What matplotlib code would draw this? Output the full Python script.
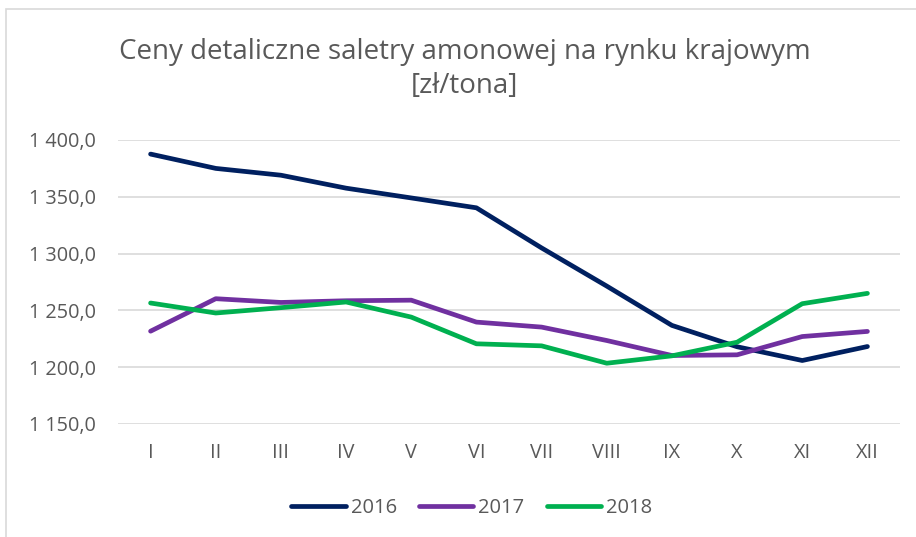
import matplotlib
matplotlib.use("Agg")
import matplotlib.pyplot as plt
from matplotlib.patches import Rectangle

# monthly retail prices of ammonium nitrate [zł/tona]
months = ["I", "II", "III", "IV", "V", "VI", "VII", "VIII", "IX", "X", "XI", "XII"]
price_2016 = [1387.6, 1375.0, 1369.0, 1357.6, 1349.0, 1340.3, 1305.0, 1271.4,
              1236.8, 1218.0, 1205.9, 1218.2]
price_2017 = [1231.7, 1260.3, 1257.0, 1258.5, 1259.0, 1239.7, 1235.3, 1223.5,
              1210.3, 1210.9, 1227.0, 1231.5]
price_2018 = [1256.5, 1247.7, 1252.4, 1257.4, 1244.1, 1220.6, 1218.8, 1203.5,
              1210.0, 1222.0, 1255.9, 1265.0]
y_ticks = [1150, 1200, 1250, 1300, 1350, 1400]

series = [("2016", price_2016, "#002060"),
          ("2017", price_2017, "#7030A0"),
          ("2018", price_2018, "#00B050")]

text_color = "#595959"
grid_color = "#D9D9D9"
plt.rcParams["font.family"] = ["Open Sans", "DejaVu Sans"]

fig = plt.figure(figsize=(9.16, 5.37), dpi=100)
fig.patches.append(Rectangle((6 / 916, -0.1), 1.2, 1 - 9 / 537 + 0.1,
                             transform=fig.transFigure, fill=False,
                             edgecolor=grid_color, linewidth=1.2))

ax = fig.add_axes([118 / 916, 1 - 424 / 537, 782 / 916, 284 / 537])
x = list(range(len(months)))
for label, values, color in series:
    ax.plot(x, values, color=color, linewidth=3.4, label=label,
            solid_capstyle="round", solid_joinstyle="round", zorder=3)

ax.set_xlim(-0.5, len(months) - 0.5)
ax.set_ylim(1150, 1400)
ax.set_yticks(y_ticks)
ax.set_yticklabels(["1 {:03d},0".format(v - 1000) for v in y_ticks])
ax.set_xticks(x)
ax.set_xticklabels(months)
ax.tick_params(length=0, colors=text_color, labelsize=14.3)
ax.tick_params(axis="y", pad=16)
ax.tick_params(axis="x", pad=14)
for s in ax.spines.values():
    s.set_visible(False)
ax.grid(axis="y", color=grid_color, linewidth=1.2, zorder=0)

fig.text(0.507, 1 - 69 / 537, "Ceny detaliczne saletry amonowej na rynku krajowym\n[zł/tona]",
         ha="center", va="center", fontsize=20, color=text_color,
         linespacing=1.32)

leg = fig.legend(loc="center", bbox_to_anchor=(0.515, 1 - 508 / 537), ncol=3,
                 frameon=False, fontsize=14.5, handlelength=2.7,
                 handletextpad=0.25, columnspacing=1.1)
for t in leg.get_texts():
    t.set_color(text_color)

fig.savefig("out.png", dpi=100)
